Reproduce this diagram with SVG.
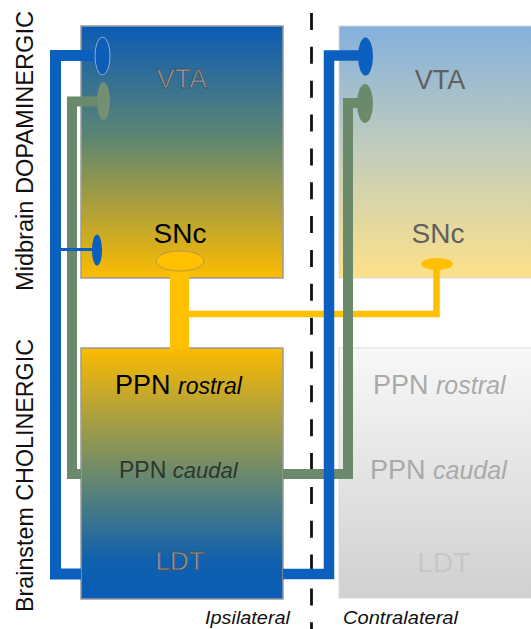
<svg xmlns="http://www.w3.org/2000/svg" width="531" height="629" viewBox="0 0 531 629">
<defs>
<linearGradient id="gLT" x1="0" y1="0" x2="0" y2="1">
<stop offset="0" stop-color="#0b5cb6"/>
<stop offset="0.45" stop-color="#5f866f"/>
<stop offset="0.75" stop-color="#b5a235"/>
<stop offset="1" stop-color="#fdbc00"/>
</linearGradient>
<linearGradient id="gLB" x1="0" y1="0" x2="0" y2="1">
<stop offset="0" stop-color="#fbbb00"/>
<stop offset="0.25" stop-color="#b3a23a"/>
<stop offset="0.5" stop-color="#6b8a6c"/>
<stop offset="0.85" stop-color="#0f60ae"/>
<stop offset="1" stop-color="#0a5cb5"/>
</linearGradient>
<linearGradient id="gRT" x1="0" y1="0" x2="0" y2="1">
<stop offset="0" stop-color="#84b0dd"/>
<stop offset="0.5" stop-color="#c3cdbb"/>
<stop offset="1" stop-color="#fde18a"/>
</linearGradient>
<linearGradient id="gRB" x1="0" y1="0" x2="0" y2="1">
<stop offset="0" stop-color="#f8f8f8"/>
<stop offset="1" stop-color="#d0d0d0"/>
</linearGradient>
<style>
text{font-family:"Liberation Sans",Arial,sans-serif}
.boxL{stroke:#9a9a9a;stroke-width:1.5}
.boxR{stroke:#dadada;stroke-width:1}
.it{font-style:italic}
.blue{stroke:#0a5fbf;fill:none}
.green{stroke:#6b8a6b;fill:none}
.yel{stroke:#ffc000;fill:none}
.outl{fill:#909db0;stroke:#4f4f4f;stroke-width:0.8}
.faint{fill:#aaaaaa}
</style>
</defs>
<rect width="531" height="629" fill="#ffffff"/>

<g id="labels-side">
<text transform="translate(33,291) rotate(-90)" font-size="23.5" fill="#111" textLength="280" lengthAdjust="spacingAndGlyphs">Midbrain DOPAMINERGIC</text>
<text transform="translate(33,612) rotate(-90)" font-size="24" fill="#111" textLength="273" lengthAdjust="spacingAndGlyphs">Brainstem CHOLINERGIC</text>
</g>

<g id="midline">
<line x1="311.5" y1="13" x2="311.5" y2="629" stroke="#111" stroke-width="2.8" stroke-dasharray="17 16.85"/>
</g>

<g id="ipsi-midbrain">
<rect class="boxL" x="81" y="26" width="202" height="252" fill="url(#gLT)"/>
<text class="outl" x="182" y="88" font-size="27" text-anchor="middle">VTA</text>
<text x="180" y="243" font-size="28" text-anchor="middle" fill="#000">SNc</text>
</g>

<g id="ipsi-brainstem">
<rect class="boxL" x="81" y="348" width="202" height="251" fill="url(#gLB)"/>
<text x="115" y="394" font-size="27" fill="#000">PPN <tspan class="it" font-size="23">rostral</tspan></text>
<text x="119" y="478" font-size="23" fill="#2e3530">PPN <tspan class="it" font-size="22">caudal</tspan></text>
<text class="outl" x="180" y="570" font-size="26" text-anchor="middle">LDT</text>
</g>

<g id="contra-midbrain">
<rect class="boxR" x="339" y="26" width="200" height="252" fill="url(#gRT)"/>
<text x="440" y="89" font-size="27" text-anchor="middle" fill="#606060">VTA</text>
<text x="438" y="243" font-size="28" text-anchor="middle" fill="#606060">SNc</text>
</g>

<g id="contra-brainstem">
<rect class="boxR" x="339" y="348" width="200" height="250" fill="url(#gRB)"/>
<text class="faint" x="373" y="394" font-size="27">PPN <tspan class="it" font-size="25">rostral</tspan></text>
<text class="faint" x="370" y="479" font-size="27">PPN <tspan class="it" font-size="25">caudal</tspan></text>
<text x="444" y="572" font-size="28" text-anchor="middle" fill="#c6c6c6">LDT</text>
</g>

<g id="connectors">
<path class="yel" d="M179.5 265 V349" stroke-width="19"/>
<path class="yel" d="M189 314 H436.5 V264" stroke-width="6.5"/>
<ellipse cx="180" cy="261" rx="24" ry="10" fill="#ffc000" stroke="#a89060" stroke-width="0.8"/>
<ellipse cx="437" cy="264" rx="16" ry="6" fill="#ffc000"/>

<path class="green" d="M97 101.5 H72 V474 H81" stroke-width="10"/>
<path class="green" d="M283 474 H348 V103 H358" stroke-width="10"/>
<ellipse cx="103.5" cy="101" rx="6.5" ry="19" fill="#7a9272" fill-opacity="0.9"/>
<ellipse cx="365" cy="103.5" rx="8" ry="19.5" fill="#6b8a6b"/>

<path class="blue" d="M96 55.5 H55.5 V574 H81" stroke-width="11"/>
<path class="blue" d="M283 574 H329 V55.5 H359" stroke-width="10.5"/>
<path class="blue" d="M60 249.5 H94" stroke-width="3"/>
<ellipse cx="97" cy="250" rx="5" ry="15.5" fill="#0a5fbf"/>
<ellipse cx="102.5" cy="56" rx="7.5" ry="19" fill="#0c5cb8" stroke="#8eaad2" stroke-width="1"/>
<ellipse cx="365.5" cy="56.5" rx="7.5" ry="19" fill="#0a5fbf"/>
</g>

<g id="labels-bottom">
<text class="it" x="205" y="624" font-size="19" fill="#111" textLength="85" lengthAdjust="spacingAndGlyphs">Ipsilateral</text>
<text class="it" x="343" y="624" font-size="19" fill="#111" textLength="115" lengthAdjust="spacingAndGlyphs">Contralateral</text>
</g>
</svg>
